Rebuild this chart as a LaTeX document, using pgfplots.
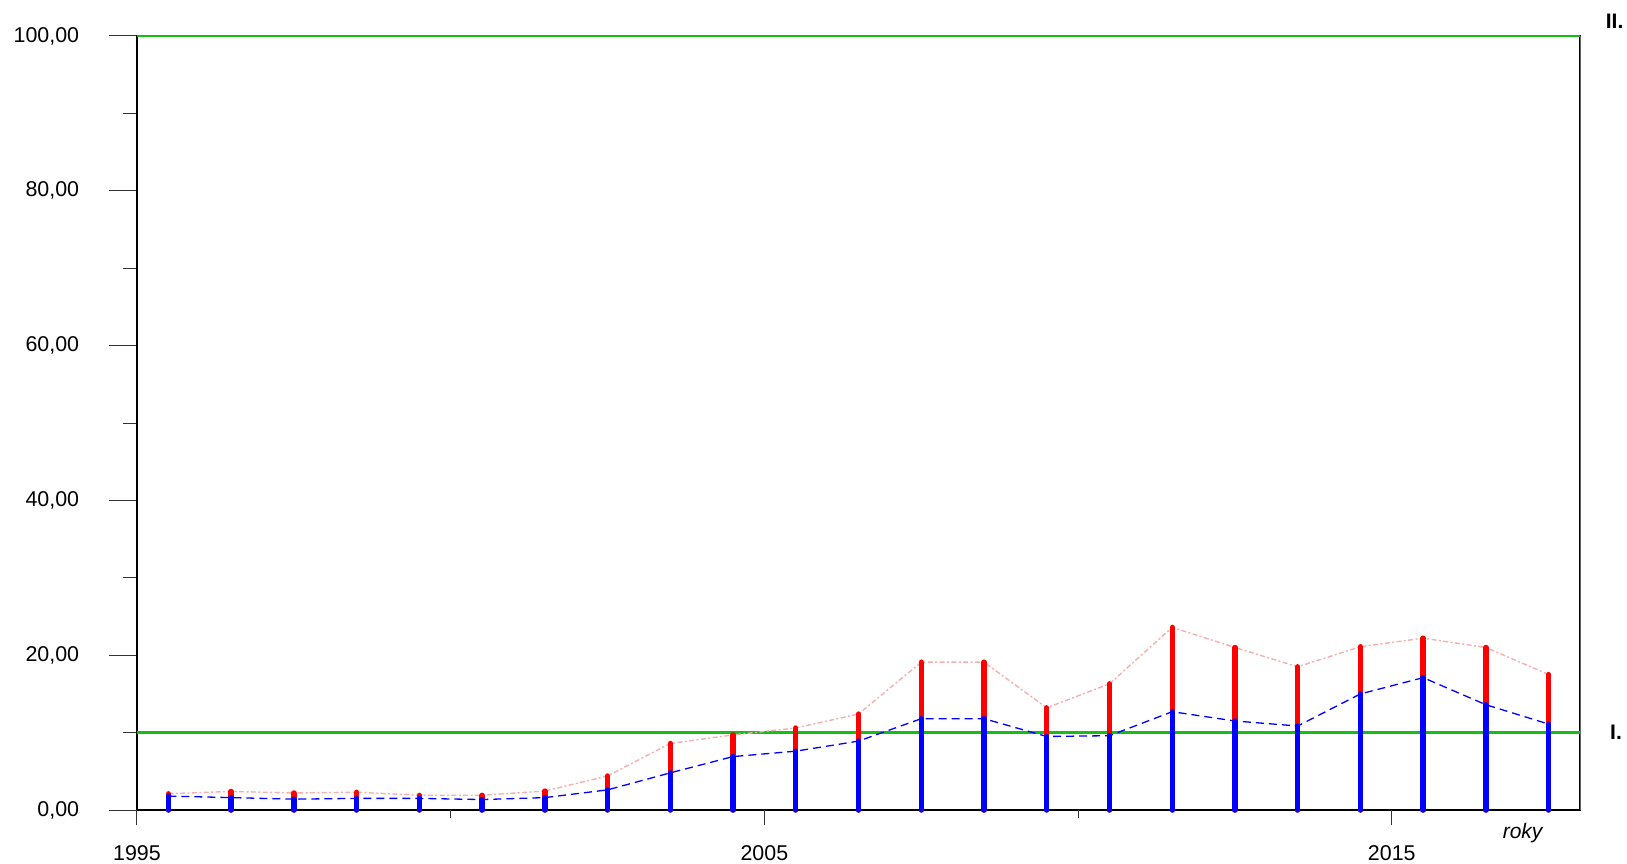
\documentclass[border=0pt]{standalone}
\usepackage{pgfplots}
\pgfplotsset{compat=1.18}
\usepackage{pgfplotstable}
\usepackage{fontspec}
\setmainfont{Liberation Sans}
\definecolor{grn}{RGB}{20,190,20}
\definecolor{pinkl}{RGB}{245,175,175}
\pgfplotstableread{
x red blue
1995.5 2.1 1.8
1996.5 2.4 1.6
1997.5 2.2 1.4
1998.5 2.3 1.5
1999.5 1.9 1.5
2000.5 1.9 1.35
2001.5 2.45 1.6
2002.5 4.4 2.6
2003.5 8.6 4.8
2004.5 9.7 6.9
2005.5 10.6 7.6
2006.5 12.4 8.9
2007.5 19.1 11.8
2008.5 19.1 11.8
2009.5 13.2 9.5
2010.5 16.3 9.6
2011.5 23.6 12.7
2012.5 21.0 11.5
2013.5 18.5 10.85
2014.5 21.1 15.0
2015.5 22.2 17.1
2016.5 21.0 13.6
2017.5 17.5 11.1
}\data
\begin{document}
\fontsize{10.5pt}{12pt}\selectfont
\begin{tikzpicture}
\useasboundingbox (-68.5pt,-26.5pt) rectangle (745pt,405pt);
% axis with y ticks and the data
\begin{axis}[
  at={(0,0)}, anchor=south west,
  scale only axis, width=721.5pt, height=387pt,
  xmin=1995, xmax=2018, ymin=0, ymax=100,
  clip=false,
  axis line style={black, line width=0.6pt},
  xtick=\empty,
  ytick={0,20,40,60,80,100},
  minor ytick={10,30,50,70,90},
  ytick pos=left,
  tick align=outside,
  major tick length=14pt, minor tick length=7pt,
  every tick/.style={black!80, line width=0.5pt},
  /pgf/number format/.cd, fixed, fixed zerofill, precision=2, use comma, 1000 sep={}, assume math mode=true,
  /pgfplots/.cd,
  yticklabel style={font=\fontsize{10.7pt}{12pt}\selectfont, anchor=east, xshift=-11.3pt},
]
\addplot[grn, line width=1.5pt, forget plot] coordinates {(1995,10) (2018,10)};
\addplot[grn, line width=1.4pt, forget plot] coordinates {(1995,100) (2018,100)};
\addplot[pinkl, line width=0.7pt, dash pattern=on 2.5pt off 1.2pt on 1pt off 1.2pt] table[x=x,y=red] {\data};
\addplot[blue, line width=0.65pt, dash pattern=on 4pt off 2.5pt] table[x=x,y=blue] {\data};
\addplot[ycomb, red, line width=2.7pt, line cap=round, mark=none] table[x=x,y=red] {\data};
\addplot[ycomb, blue, line width=2.7pt, line cap=round, mark=none] table[x=x,y=blue] {\data};
\node[font=\bfseries\fontsize{10.5pt}{12pt}\selectfont] at (rel axis cs:1.0,0) [xshift=17.3pt, yshift=394.6pt] {II.};
\node[font=\bfseries\fontsize{10.5pt}{12pt}\selectfont] at (axis cs:2018,10) [xshift=18pt] {I.};
\node[font=\itshape\fontsize{10.5pt}{12pt}\selectfont] at (rel axis cs:0,0) [xshift=692.8pt, yshift=-11.5pt] {roky};
\foreach \yr in {1995,2005,2015} {
  \edef\tmp{\noexpand\node[font=\noexpand\fontsize{10.7pt}{12pt}\noexpand\selectfont, anchor=north, inner sep=0pt, yshift=-16.8pt] at (axis cs:\yr,0) {\noexpand\strut\yr};}
  \tmp
}
\end{axis}
% axis with x ticks
\begin{axis}[
  at={(0,0)}, anchor=south west,
  scale only axis, width=721.5pt, height=387pt,
  xmin=1995, xmax=2018, ymin=0, ymax=100,
  axis line style={draw=none},
  ytick=\empty,
  xtick={1995,2005,2015},
  xticklabels={},
  minor xtick={2000,2010},
  xtick pos=bottom,
  tick align=outside,
  major tick length=7.5pt, minor tick length=4pt,
  every tick/.style={black!80, line width=0.5pt},
]
\end{axis}
\draw[black!60, line width=0.5pt] (721.5pt,0) -- (721.5pt,387pt);
\end{tikzpicture}
\end{document}
